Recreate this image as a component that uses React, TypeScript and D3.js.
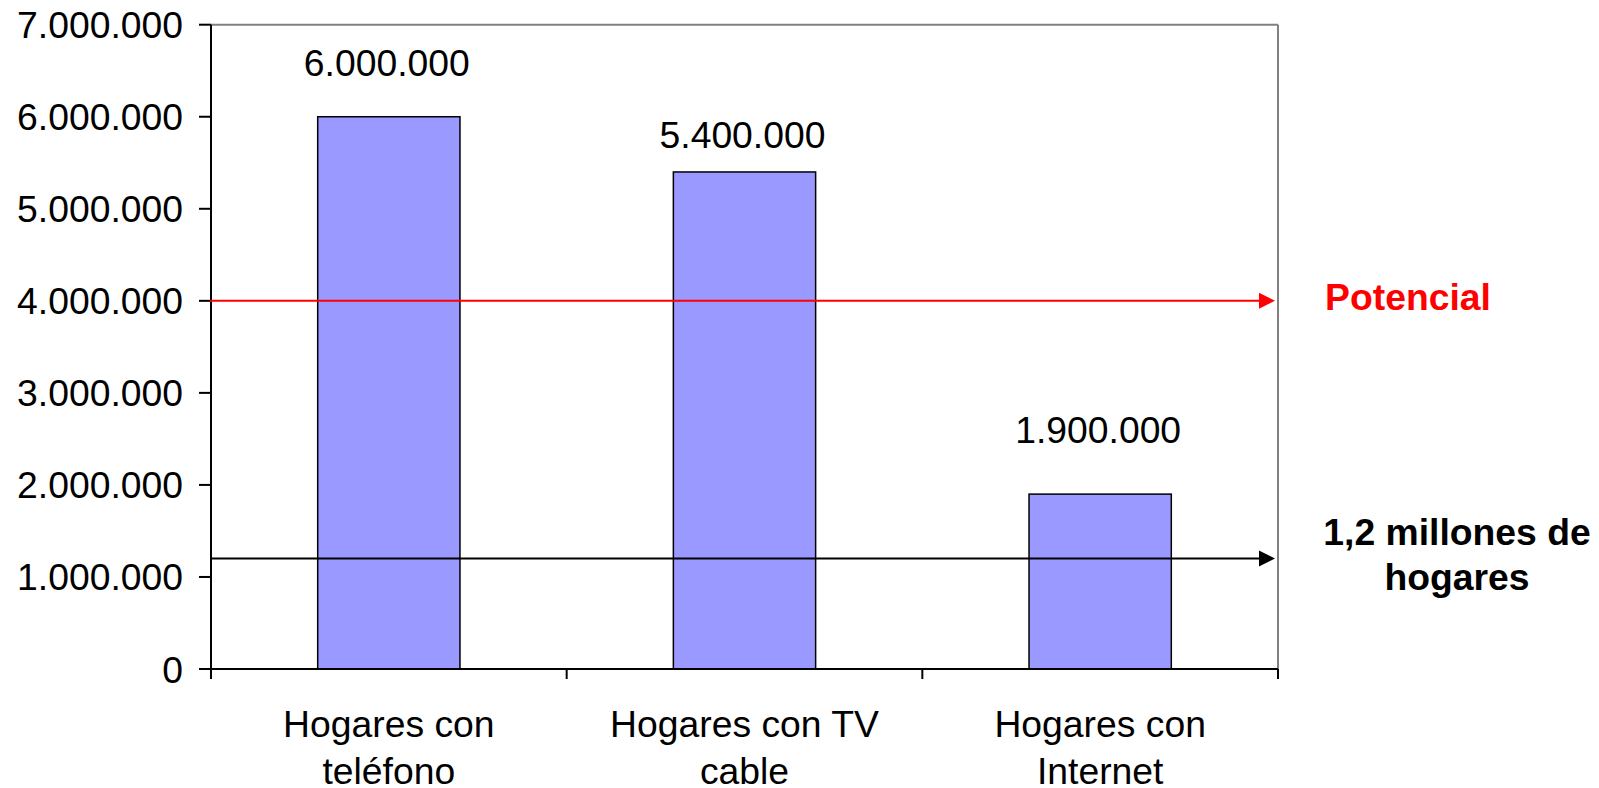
import React from "react";
import * as d3 from "d3";

const categories: string[][] = [
  ["Hogares con", "teléfono"],
  ["Hogares con TV", "cable"],
  ["Hogares con", "Internet"],
];
const values: number[] = [6000000, 5400000, 1900000];
const yTicks: number[] = [0, 1000000, 2000000, 3000000, 4000000, 5000000, 6000000, 7000000];
const yMax = 7000000;
const potencialValue = 4000000;
const potencialLabel = ["Potencial"];
const hogaresValue = 1200000;
const hogaresLabel = ["1,2 millones de", "hogares"];

// layout (pixels)
const W = 1599;
const H = 788;
const left = 211;
const right = 1278;
const top = 24.7;
const bottom = 669;
const labelGap = [41, 24, 51];
const FONT = "'Liberation Sans', Arial, Helvetica, sans-serif";
const FS = 37.3;

const locale = d3.formatLocale({ decimal: ",", thousands: ".", grouping: [3], currency: ["$", ""] });
const fmt = locale.format(",");

export default function App() {
  const keys = categories.map((c) => c.join(" "));
  const x = d3.scaleBand<string>().domain(keys).range([left, right]).paddingInner(0.6).paddingOuter(0.3);
  const y = d3.scaleLinear().domain([0, yMax]).range([bottom, top]);
  const step = x.step();
  const bounds = d3.range(categories.length + 1).map((i) => left + i * step);
  const arrowTip = right - 3;
  const arrowLen = 16;
  const arrowHalf = 8;
  const refLines = [
    { v: potencialValue, color: "#FF0000" },
    { v: hogaresValue, color: "#000000" },
  ];

  return (
    <svg width={W} height={H} style={{ position: "absolute", left: 0, top: 0, background: "#fff" }}>
      {/* bars */}
      {values.map((v, i) => (
        <rect
          key={i}
          x={x(keys[i])!}
          y={y(v)}
          width={x.bandwidth()}
          height={y(0) - y(v)}
          fill="#9999FF"
          stroke="#000"
          strokeWidth={1.5}
        />
      ))}
      {/* plot border top/right */}
      <line x1={left} x2={right} y1={top} y2={top} stroke="#808080" strokeWidth={2} />
      <line x1={right} x2={right} y1={top} y2={bottom} stroke="#808080" strokeWidth={2} />
      {/* y axis */}
      <line x1={left} x2={left} y1={top} y2={bottom + 10} stroke="#000" strokeWidth={2} />
      {yTicks.map((t) => (
        <g key={t}>
          <line x1={left - 12} x2={left} y1={y(t)} y2={y(t)} stroke="#000" strokeWidth={2} />
          <text x={183} y={y(t) + 13.5} textAnchor="end" fontFamily={FONT} fontSize={FS} fill="#000">
            {fmt(t)}
          </text>
        </g>
      ))}
      {/* x axis */}
      <line x1={left - 12} x2={right} y1={bottom} y2={bottom} stroke="#000" strokeWidth={2} />
      {bounds.map((b, i) => (
        <line key={i} x1={b} x2={b} y1={bottom} y2={bottom + 10} stroke="#000" strokeWidth={2} />
      ))}
      {categories.map((c, i) => (
        <text key={i} textAnchor="middle" fontFamily={FONT} fontSize={FS} fill="#000">
          {c.map((line, j) => (
            <tspan key={j} x={x(keys[i])! + x.bandwidth() / 2} y={737 + j * 46.5}>
              {line}
            </tspan>
          ))}
        </text>
      ))}
      {/* value labels */}
      {values.map((v, i) => (
        <text
          key={i}
          x={x(keys[i])! + x.bandwidth() / 2 - 2}
          y={y(v) - labelGap[i]}
          textAnchor="middle"
          fontFamily={FONT}
          fontSize={FS}
          fill="#000"
        >
          {fmt(v)}
        </text>
      ))}
      {/* reference arrows */}
      {refLines.map((r, i) => (
        <g key={i}>
          <line x1={left - 1} x2={arrowTip - arrowLen + 2} y1={y(r.v)} y2={y(r.v)} stroke={r.color} strokeWidth={2} />
          <path
            d={`M${arrowTip},${y(r.v)} L${arrowTip - arrowLen},${y(r.v) - arrowHalf} L${arrowTip - arrowLen},${y(r.v) + arrowHalf} Z`}
            fill={r.color}
          />
        </g>
      ))}
      <text textAnchor="middle" fontFamily={FONT} fontSize={FS} fontWeight="bold" fill="#FF0000">
        {potencialLabel.map((l, j) => (
          <tspan key={j} x={1408} y={y(potencialValue) + 9 + j * 45}>
            {l}
          </tspan>
        ))}
      </text>
      <text textAnchor="middle" fontFamily={FONT} fontSize={FS} fontWeight="bold" fill="#000">
        {hogaresLabel.map((l, j) => (
          <tspan key={j} x={1457} y={y(hogaresValue) - 14 + j * 45}>
            {l}
          </tspan>
        ))}
      </text>
    </svg>
  );
}
